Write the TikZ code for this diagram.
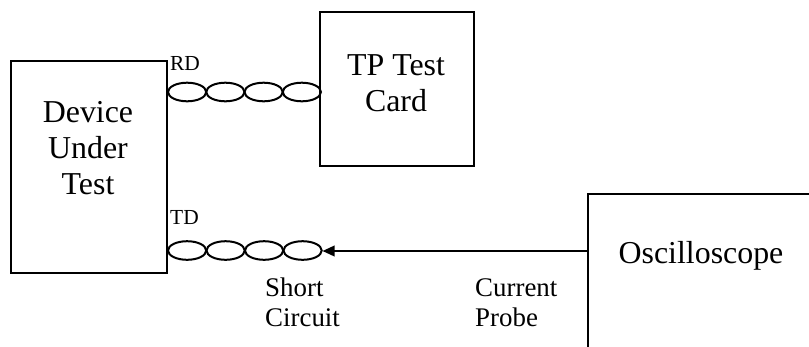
\documentclass[tikz,border=0pt]{standalone}
\usepackage{fontspec}
\setmainfont{Liberation Serif}
\usetikzlibrary{arrows.meta,calc}
\begin{document}
\begin{tikzpicture}[x=1bp,y=-1bp,
  box/.style={draw,line width=2bp,inner sep=0,anchor=north west},
  big/.style={inner sep=0,align=center,font=\fontsize{32}{36.5}\selectfont},
  small/.style={inner sep=0,align=left,anchor=north west,font=\fontsize{27}{30}\selectfont},
  tag/.style={inner sep=0,anchor=base west,font=\fontsize{21.5}{24}\selectfont},
  coil/.style={line width=2bp},
  probe/.style={line width=2bp,-{Triangle[length=12bp,width=10.5bp]}}]
\useasboundingbox (0,0) rectangle (809,346);
\clip (0,0) rectangle (809,346);
% boxes
\node[box,minimum width=156bp,minimum height=212bp] (dut) at (10,60) {};
\node[box,minimum width=154bp,minimum height=154bp] (tp) at (319,11) {};
\node[box,minimum width=240bp,minimum height=200bp] (osc) at (587,193) {};
% box texts
\node[big] (dutlbl) at (88,148) {Device\\Under\\Test};
\node[big] (tplbl) at (396,83) {TP Test\\Card};
\node[big,anchor=base] (osclbl) at (701,263) {Oscilloscope};
% twisted pairs
\coordinate (rd) at ($(dut.north east)+(0,32)$);
\coordinate (td) at ($(dut.north east)+(0,190.5)$);
\foreach \i in {0,1,2,3}{
  \draw[coil] ($(rd)+(19.1+38.25*\i,0)$) ellipse [x radius=19.1, y radius=9.3];
  \draw[coil] ($(td)+(19.1+38.5*\i,0)$) ellipse [x radius=19.1, y radius=9.3];
}
\coordinate (tdend) at ($(td)+(154.5,0.5)$);
\node[tag] (rdlbl) at (170,70) {RD};
\node[tag] (tdlbl) at (170,224) {TD};
% probe arrow
\draw[probe] (osc.west |- tdend) -- (tdend);
\node[small] (short) at (265,277.6) {Short\\Circuit};
\node[small] (cur) at (475,278.7) {Current\\Probe};
\end{tikzpicture}
\end{document}
